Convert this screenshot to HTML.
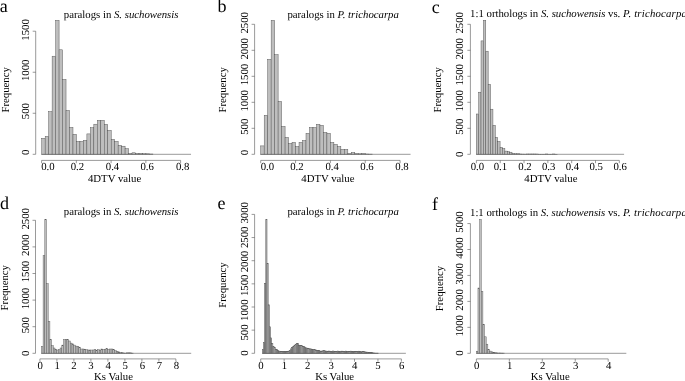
<!DOCTYPE html>
<html lang="en">
<head>
<meta charset="utf-8">
<title>4DTV and Ks distributions</title>
<style>
html,body{margin:0;padding:0;background:#fff;}
svg{display:block;will-change:transform;filter:blur(0.35px);}
text{font-family:"Liberation Serif", "Times New Roman", serif;fill:#000;text-rendering:geometricPrecision;}
.t{font-size:10.75px;}
.L{font-size:18px;}
.i{font-style:italic;}
.ax{stroke:#555;stroke-width:0.6;fill:none;}
.b{fill:#bebebe;stroke:#505050;stroke-width:0.45;}
</style>
</head>
<body>
<svg width="685" height="381" viewBox="0 0 685 381">
<rect width="685" height="381" fill="#fff"/>
<g>
<text class="L" x="-0.3" y="12.4">a</text>
<text class="t" x="63.8" y="17.8" xml:space="preserve">paralogs in <tspan class="i">S. suchowensis</tspan></text>
<g class="b">
<rect x="41.7" y="138.3" width="3.48" height="16"/><rect x="45.18" y="136.4" width="3.48" height="17.9"/><rect x="48.65" y="111.6" width="3.48" height="42.7"/><rect x="52.12" y="56.2" width="3.48" height="98.1"/><rect x="55.6" y="20.3" width="3.48" height="134"/><rect x="59.08" y="49.8" width="3.48" height="104.5"/><rect x="62.55" y="79.4" width="3.48" height="74.9"/><rect x="66.03" y="110.4" width="3.48" height="43.9"/><rect x="69.5" y="127.4" width="3.48" height="26.9"/><rect x="72.98" y="134.3" width="3.48" height="20"/><rect x="76.45" y="141.4" width="3.48" height="12.9"/><rect x="79.93" y="141.4" width="3.48" height="12.9"/><rect x="83.4" y="140.3" width="3.48" height="14"/><rect x="86.88" y="133.9" width="3.48" height="20.4"/><rect x="90.35" y="127.7" width="3.48" height="26.6"/><rect x="93.83" y="124.2" width="3.48" height="30.1"/><rect x="97.3" y="120.3" width="3.48" height="34"/><rect x="100.78" y="120.3" width="3.48" height="34"/><rect x="104.25" y="124.3" width="3.48" height="30"/><rect x="107.73" y="130.3" width="3.48" height="24"/><rect x="111.2" y="139.3" width="3.48" height="15"/><rect x="114.68" y="141.4" width="3.48" height="12.9"/><rect x="118.15" y="145.3" width="3.48" height="9"/><rect x="121.62" y="146.2" width="3.48" height="8.1"/><rect x="125.1" y="148.6" width="3.48" height="5.7"/><rect x="128.57" y="153.4" width="3.48" height="0.9"/><rect x="132.05" y="152.8" width="3.48" height="1.5"/><rect x="135.53" y="153.4" width="3.48" height="0.9"/><rect x="139" y="153.4" width="3.48" height="0.9"/><rect x="142.48" y="153.7" width="3.48" height="0.6"/><rect x="145.95" y="153.8" width="3.48" height="0.5"/><rect x="149.43" y="154" width="3.48" height="0.3"/>
</g>
<path class="ax" d="M41.7 154.3H191.03"/>
<path class="ax" d="M35.7 154.3V31.21M35.7 154.3h-3M35.7 113.27h-3M35.7 72.24h-3M35.7 31.21h-3"/>
<text class="t" text-anchor="middle" transform="translate(29.1 152.3) rotate(-90)">0</text>
<text class="t" text-anchor="middle" transform="translate(29.1 111.17) rotate(-90)">500</text>
<text class="t" text-anchor="middle" transform="translate(29.1 70.34) rotate(-90)">1000</text>
<text class="t" text-anchor="middle" transform="translate(29.1 29.91) rotate(-90)">1500</text>
<text class="t" text-anchor="middle" transform="translate(8.5 89.8) rotate(-90)">Frequency</text>
<path class="ax" d="M41.6 160.4H180.6M41.6 160.4v2.8M76.35 160.4v2.8M111.1 160.4v2.8M145.85 160.4v2.8M180.6 160.4v2.8"/>
<text class="t" text-anchor="middle" x="47.9" y="170.3">0.0</text>
<text class="t" text-anchor="middle" x="77.4" y="170.3">0.2</text>
<text class="t" text-anchor="middle" x="112.5" y="170.3">0.4</text>
<text class="t" text-anchor="middle" x="147.2" y="170.3">0.6</text>
<text class="t" text-anchor="middle" x="182.6" y="170.3">0.8</text>
<text class="t" text-anchor="middle" x="114.6" y="181.5">4DTV value</text>
</g>
<g>
<text class="L" x="217.5" y="12.4">b</text>
<text class="t" x="287.4" y="17.6" xml:space="preserve">paralogs in <tspan class="i">P. trichocarpa</tspan></text>
<g class="b">
<rect x="260.7" y="145.9" width="3.48" height="8.4"/><rect x="264.19" y="115.3" width="3.48" height="39"/><rect x="267.67" y="59.3" width="3.48" height="95"/><rect x="271.15" y="20.3" width="3.48" height="134"/><rect x="274.64" y="54.7" width="3.48" height="99.6"/><rect x="278.12" y="101.4" width="3.48" height="52.9"/><rect x="281.61" y="126.4" width="3.48" height="27.9"/><rect x="285.09" y="137.4" width="3.48" height="16.9"/><rect x="288.58" y="143.4" width="3.48" height="10.9"/><rect x="292.06" y="142.4" width="3.48" height="11.9"/><rect x="295.55" y="146.5" width="3.48" height="7.8"/><rect x="299.03" y="142.4" width="3.48" height="11.9"/><rect x="302.52" y="140.5" width="3.48" height="13.8"/><rect x="306" y="133.3" width="3.48" height="21"/><rect x="309.49" y="127.5" width="3.48" height="26.8"/><rect x="312.97" y="127.5" width="3.48" height="26.8"/><rect x="316.46" y="124.3" width="3.48" height="30"/><rect x="319.94" y="125.3" width="3.48" height="29"/><rect x="323.43" y="132.4" width="3.48" height="21.9"/><rect x="326.91" y="133.3" width="3.48" height="21"/><rect x="330.4" y="142.4" width="3.48" height="11.9"/><rect x="333.88" y="144.4" width="3.48" height="9.9"/><rect x="337.37" y="146.5" width="3.48" height="7.8"/><rect x="340.86" y="149.4" width="3.48" height="4.9"/><rect x="344.34" y="149.4" width="3.48" height="4.9"/><rect x="347.82" y="153.4" width="3.48" height="0.9"/><rect x="351.31" y="152.5" width="3.48" height="1.8"/><rect x="354.79" y="153.4" width="3.48" height="0.9"/><rect x="358.28" y="153.8" width="3.48" height="0.5"/><rect x="361.76" y="153.4" width="3.48" height="0.9"/><rect x="365.25" y="154" width="3.48" height="0.3"/><rect x="368.74" y="154.1" width="3.48" height="0.2"/>
</g>
<path class="ax" d="M260.7 154.3H410.55"/>
<path class="ax" d="M254.6 154.3V24.3M254.6 154.3h-3M254.6 128.3h-3M254.6 102.3h-3M254.6 76.3h-3M254.6 50.3h-3M254.6 24.3h-3"/>
<text class="t" text-anchor="middle" transform="translate(248.1 152.5) rotate(-90)">0</text>
<text class="t" text-anchor="middle" transform="translate(248.1 126.8) rotate(-90)">500</text>
<text class="t" text-anchor="middle" transform="translate(248.1 100.8) rotate(-90)">1000</text>
<text class="t" text-anchor="middle" transform="translate(248.1 74.6) rotate(-90)">1500</text>
<text class="t" text-anchor="middle" transform="translate(248.1 48.8) rotate(-90)">2000</text>
<text class="t" text-anchor="middle" transform="translate(248.1 22.8) rotate(-90)">2500</text>
<text class="t" text-anchor="middle" transform="translate(226.3 89.8) rotate(-90)">Frequency</text>
<path class="ax" d="M260.7 160.4H400.1M260.7 160.4v2.8M295.55 160.4v2.8M330.4 160.4v2.8M365.25 160.4v2.8M400.1 160.4v2.8"/>
<text class="t" text-anchor="middle" x="267.4" y="170.3">0.0</text>
<text class="t" text-anchor="middle" x="296.9" y="170.3">0.2</text>
<text class="t" text-anchor="middle" x="332.1" y="170.3">0.4</text>
<text class="t" text-anchor="middle" x="367" y="170.3">0.6</text>
<text class="t" text-anchor="middle" x="402" y="170.3">0.8</text>
<text class="t" text-anchor="middle" x="327.9" y="181.5">4DTV value</text>
</g>
<g>
<text class="L" x="431.8" y="12.6">c</text>
<text class="t" x="470.1" y="17.2" xml:space="preserve">1:1 orthologs in <tspan class="i">S. suchowensis</tspan> vs. <tspan class="i" letter-spacing="0.2">P. trichocarpa</tspan></text>
<g class="b">
<rect x="476.25" y="114" width="2.38" height="40.3"/><rect x="478.63" y="92.2" width="2.38" height="62.1"/><rect x="481.02" y="40.9" width="2.38" height="113.4"/><rect x="483.4" y="20.3" width="2.38" height="134"/><rect x="485.79" y="51.2" width="2.38" height="103.1"/><rect x="488.18" y="84.3" width="2.38" height="70"/><rect x="490.56" y="109.2" width="2.38" height="45.1"/><rect x="492.94" y="125.3" width="2.38" height="29"/><rect x="495.33" y="137.3" width="2.38" height="17"/><rect x="497.71" y="141.5" width="2.38" height="12.8"/><rect x="500.1" y="147.4" width="2.38" height="6.9"/><rect x="502.49" y="148.6" width="2.38" height="5.7"/><rect x="504.87" y="151.1" width="2.38" height="3.2"/><rect x="507.25" y="151.7" width="2.38" height="2.6"/><rect x="509.64" y="152.2" width="2.38" height="2.1"/><rect x="512.02" y="153.4" width="2.38" height="0.9"/><rect x="514.41" y="153.8" width="2.38" height="0.5"/><rect x="516.79" y="153.7" width="2.38" height="0.6"/><rect x="519.18" y="154" width="2.38" height="0.3"/><rect x="521.57" y="154.1" width="2.38" height="0.2"/><rect x="523.95" y="154.15" width="2.38" height="0.15"/><rect x="526.34" y="154" width="2.38" height="0.3"/><rect x="528.72" y="154" width="2.38" height="0.3"/><rect x="531.11" y="154" width="2.38" height="0.3"/><rect x="533.49" y="154" width="2.38" height="0.3"/><rect x="535.88" y="154.05" width="2.38" height="0.25"/><rect x="538.26" y="154.25" width="2.38" height="0.05"/><rect x="540.64" y="154.25" width="2.38" height="0.05"/><rect x="543.03" y="154.25" width="2.38" height="0.05"/><rect x="545.41" y="154" width="2.38" height="0.3"/><rect x="547.8" y="154.25" width="2.38" height="0.05"/><rect x="550.18" y="154.25" width="2.38" height="0.05"/><rect x="552.57" y="154" width="2.38" height="0.3"/><rect x="554.96" y="154.25" width="2.38" height="0.05"/>
</g>
<path class="ax" d="M476.25 154.3H624.08"/>
<path class="ax" d="M470.4 154.3V24.3M470.4 154.3h-3M470.4 128.3h-3M470.4 102.3h-3M470.4 76.3h-3M470.4 50.3h-3M470.4 24.3h-3"/>
<text class="t" text-anchor="middle" transform="translate(463.2 154.3) rotate(-90)">0</text>
<text class="t" text-anchor="middle" transform="translate(463.2 126.8) rotate(-90)">500</text>
<text class="t" text-anchor="middle" transform="translate(463.2 100.8) rotate(-90)">1000</text>
<text class="t" text-anchor="middle" transform="translate(463.2 74.8) rotate(-90)">1500</text>
<text class="t" text-anchor="middle" transform="translate(463.2 48.8) rotate(-90)">2000</text>
<text class="t" text-anchor="middle" transform="translate(463.2 22.8) rotate(-90)">2500</text>
<text class="t" text-anchor="middle" transform="translate(441.4 89.8) rotate(-90)">Frequency</text>
<path class="ax" d="M476.4 160.4H619.32M476.4 160.4v2.8M500.22 160.4v2.8M524.04 160.4v2.8M547.86 160.4v2.8M571.68 160.4v2.8M595.5 160.4v2.8M619.32 160.4v2.8"/>
<text class="t" text-anchor="middle" x="477.4" y="170.3">0.0</text>
<text class="t" text-anchor="middle" x="500.4" y="170.3">0.1</text>
<text class="t" text-anchor="middle" x="525" y="170.3">0.2</text>
<text class="t" text-anchor="middle" x="548.6" y="170.3">0.3</text>
<text class="t" text-anchor="middle" x="572.4" y="170.3">0.4</text>
<text class="t" text-anchor="middle" x="596.1" y="170.3">0.5</text>
<text class="t" text-anchor="middle" x="620.1" y="170.3">0.6</text>
<text class="t" text-anchor="middle" x="550.9" y="181.5">4DTV value</text>
</g>
<g>
<text class="L" x="0" y="209">d</text>
<text class="t" x="63.8" y="215.2" xml:space="preserve">paralogs in <tspan class="i">S. suchowensis</tspan></text>
<g class="b" style="stroke:#5c5c5c;">
<rect x="41.4" y="346.4" width="1.7" height="6.9"/><rect x="43.1" y="255.6" width="1.7" height="97.7"/><rect x="44.8" y="219.6" width="1.7" height="133.7"/><rect x="46.5" y="283.6" width="1.7" height="69.7"/><rect x="48.2" y="321.4" width="1.7" height="31.9"/><rect x="49.9" y="339.5" width="1.7" height="13.8"/><rect x="51.6" y="345.6" width="1.7" height="7.7"/><rect x="53.3" y="348" width="1.7" height="5.3"/><rect x="55" y="349.2" width="1.7" height="4.1"/><rect x="56.7" y="350" width="1.7" height="3.3"/><rect x="58.4" y="349.7" width="1.7" height="3.6"/><rect x="60.1" y="348" width="1.7" height="5.3"/><rect x="61.8" y="345.1" width="1.7" height="8.2"/><rect x="63.5" y="339.5" width="1.7" height="13.8"/><rect x="65.2" y="339.5" width="1.7" height="13.8"/><rect x="66.9" y="339.5" width="1.7" height="13.8"/><rect x="68.6" y="341" width="1.7" height="12.3"/><rect x="70.3" y="343.1" width="1.7" height="10.2"/><rect x="72" y="343.9" width="1.7" height="9.4"/><rect x="73.7" y="345.1" width="1.7" height="8.2"/><rect x="75.4" y="346.1" width="1.7" height="7.2"/><rect x="77.1" y="346.7" width="1.7" height="6.6"/><rect x="78.8" y="347.2" width="1.7" height="6.1"/><rect x="80.5" y="349" width="1.7" height="4.3"/><rect x="82.2" y="349" width="1.7" height="4.3"/><rect x="83.9" y="349.2" width="1.7" height="4.1"/><rect x="85.6" y="349.7" width="1.7" height="3.6"/><rect x="87.3" y="350" width="1.7" height="3.3"/><rect x="89" y="350" width="1.7" height="3.3"/><rect x="90.7" y="350" width="1.7" height="3.3"/><rect x="92.4" y="350" width="1.7" height="3.3"/><rect x="94.1" y="349.7" width="1.7" height="3.6"/><rect x="95.8" y="350.2" width="1.7" height="3.1"/><rect x="97.5" y="349.7" width="1.7" height="3.6"/><rect x="99.2" y="350.2" width="1.7" height="3.1"/><rect x="100.9" y="349" width="1.7" height="4.3"/><rect x="102.6" y="349.4" width="1.7" height="3.9"/><rect x="104.3" y="349.2" width="1.7" height="4.1"/><rect x="106" y="348.5" width="1.7" height="4.8"/><rect x="107.7" y="349.2" width="1.7" height="4.1"/><rect x="109.4" y="349" width="1.7" height="4.3"/><rect x="111.1" y="349" width="1.7" height="4.3"/><rect x="112.8" y="349.7" width="1.7" height="3.6"/><rect x="114.5" y="350.7" width="1.7" height="2.6"/><rect x="116.2" y="351.3" width="1.7" height="2"/><rect x="117.9" y="351.8" width="1.7" height="1.5"/><rect x="119.6" y="352.3" width="1.7" height="1"/><rect x="121.3" y="352.7" width="1.7" height="0.6"/><rect x="123" y="353" width="1.7" height="0.3"/><rect x="124.7" y="353.1" width="1.7" height="0.2"/><rect x="126.4" y="352.8" width="1.7" height="0.5"/><rect x="128.1" y="352.8" width="1.7" height="0.5"/><rect x="129.8" y="352.8" width="1.7" height="0.5"/><rect x="131.5" y="353.1" width="1.7" height="0.2"/>
</g>
<path class="ax" d="M41.4 353.3H191.2"/>
<path class="ax" d="M35.5 353.3V220.3M35.5 353.3h-3M35.5 326.7h-3M35.5 300.1h-3M35.5 273.5h-3M35.5 246.9h-3M35.5 220.3h-3"/>
<text class="t" text-anchor="middle" transform="translate(28.7 353.2) rotate(-90)">0</text>
<text class="t" text-anchor="middle" transform="translate(28.7 325.2) rotate(-90)">500</text>
<text class="t" text-anchor="middle" transform="translate(28.7 298.6) rotate(-90)">1000</text>
<text class="t" text-anchor="middle" transform="translate(28.7 271.6) rotate(-90)">1500</text>
<text class="t" text-anchor="middle" transform="translate(28.7 245.2) rotate(-90)">2000</text>
<text class="t" text-anchor="middle" transform="translate(28.7 218.8) rotate(-90)">2500</text>
<text class="t" text-anchor="middle" transform="translate(8.4 287.7) rotate(-90)">Frequency</text>
<path class="ax" d="M39.9 358.9H175.9M39.9 358.9v2.8M56.9 358.9v2.8M73.9 358.9v2.8M90.9 358.9v2.8M107.9 358.9v2.8M124.9 358.9v2.8M141.9 358.9v2.8M158.9 358.9v2.8M175.9 358.9v2.8"/>
<text class="t" text-anchor="middle" x="40.2" y="369.1">0</text>
<text class="t" text-anchor="middle" x="57.3" y="369.1">1</text>
<text class="t" text-anchor="middle" x="74" y="369.1">2</text>
<text class="t" text-anchor="middle" x="91" y="369.1">3</text>
<text class="t" text-anchor="middle" x="108.2" y="369.1">4</text>
<text class="t" text-anchor="middle" x="125.3" y="369.1">5</text>
<text class="t" text-anchor="middle" x="142.4" y="369.1">6</text>
<text class="t" text-anchor="middle" x="159.4" y="369.1">7</text>
<text class="t" text-anchor="middle" x="176.4" y="369.1">8</text>
<text class="t" text-anchor="middle" x="113.5" y="380.4">Ks Value</text>
</g>
<g>
<text class="L" x="217.5" y="209.2">e</text>
<text class="t" x="287.4" y="215.2" xml:space="preserve">paralogs in <tspan class="i">P. trichocarpa</tspan></text>
<g class="b" style="stroke:#505050;stroke-width:0.52;">
<rect x="262.3" y="349.6" width="1.17" height="3.7"/><rect x="263.47" y="342.6" width="1.17" height="10.7"/><rect x="264.65" y="283.5" width="1.17" height="69.8"/><rect x="265.82" y="219.6" width="1.17" height="133.7"/><rect x="266.99" y="263.3" width="1.17" height="90"/><rect x="268.16" y="304.8" width="1.17" height="48.5"/><rect x="269.34" y="326.8" width="1.17" height="26.5"/><rect x="270.51" y="337.9" width="1.17" height="15.4"/><rect x="271.68" y="343.7" width="1.17" height="9.6"/><rect x="272.85" y="346.7" width="1.17" height="6.6"/><rect x="274.03" y="347.4" width="1.17" height="5.9"/><rect x="275.2" y="349.2" width="1.17" height="4.1"/><rect x="276.37" y="349.6" width="1.17" height="3.7"/><rect x="277.54" y="350.4" width="1.17" height="2.9"/><rect x="278.72" y="351.1" width="1.17" height="2.2"/><rect x="279.89" y="351.5" width="1.17" height="1.8"/><rect x="281.06" y="351.5" width="1.17" height="1.8"/><rect x="282.23" y="351.5" width="1.17" height="1.8"/><rect x="283.41" y="351.5" width="1.17" height="1.8"/><rect x="284.58" y="351.5" width="1.17" height="1.8"/><rect x="285.75" y="351.5" width="1.17" height="1.8"/><rect x="286.92" y="351.3" width="1.17" height="2"/><rect x="288.1" y="351.1" width="1.17" height="2.2"/><rect x="289.27" y="350.4" width="1.17" height="2.9"/><rect x="290.44" y="348.9" width="1.17" height="4.4"/><rect x="291.61" y="347.4" width="1.17" height="5.9"/><rect x="292.79" y="346.4" width="1.17" height="6.9"/><rect x="293.96" y="345.2" width="1.17" height="8.1"/><rect x="295.13" y="344.2" width="1.17" height="9.1"/><rect x="296.3" y="343.3" width="1.17" height="10"/><rect x="297.48" y="343.7" width="1.17" height="9.6"/><rect x="298.65" y="345.2" width="1.17" height="8.1"/><rect x="299.82" y="345.7" width="1.17" height="7.6"/><rect x="300.99" y="345.7" width="1.17" height="7.6"/><rect x="302.17" y="346.7" width="1.17" height="6.6"/><rect x="303.34" y="346.4" width="1.17" height="6.9"/><rect x="304.51" y="347.1" width="1.17" height="6.2"/><rect x="305.68" y="347.9" width="1.17" height="5.4"/><rect x="306.86" y="348.2" width="1.17" height="5.1"/><rect x="308.03" y="348.6" width="1.17" height="4.7"/><rect x="309.2" y="348.9" width="1.17" height="4.4"/><rect x="310.37" y="348.9" width="1.17" height="4.4"/><rect x="311.55" y="349.2" width="1.17" height="4.1"/><rect x="312.72" y="349.6" width="1.17" height="3.7"/><rect x="313.89" y="349.6" width="1.17" height="3.7"/><rect x="315.06" y="349.9" width="1.17" height="3.4"/><rect x="316.24" y="350.4" width="1.17" height="2.9"/><rect x="317.41" y="350.4" width="1.17" height="2.9"/><rect x="318.58" y="350.7" width="1.17" height="2.6"/><rect x="319.75" y="351.1" width="1.17" height="2.2"/><rect x="320.93" y="351.1" width="1.17" height="2.2"/><rect x="322.1" y="350.8" width="1.17" height="2.5"/><rect x="323.27" y="350.4" width="1.17" height="2.9"/><rect x="324.44" y="350.8" width="1.17" height="2.5"/><rect x="325.62" y="351.1" width="1.17" height="2.2"/><rect x="326.79" y="351.4" width="1.17" height="1.9"/><rect x="327.96" y="351.06" width="1.17" height="2.24"/><rect x="329.13" y="351.17" width="1.17" height="2.13"/><rect x="330.31" y="351.59" width="1.17" height="1.71"/><rect x="331.48" y="351.39" width="1.17" height="1.91"/><rect x="332.65" y="351.03" width="1.17" height="2.27"/><rect x="333.82" y="351.34" width="1.17" height="1.96"/><rect x="335" y="351.64" width="1.17" height="1.66"/><rect x="336.17" y="351.26" width="1.17" height="2.04"/><rect x="337.34" y="351.08" width="1.17" height="2.22"/><rect x="338.51" y="351.52" width="1.17" height="1.78"/><rect x="339.69" y="351.6" width="1.17" height="1.7"/><rect x="340.86" y="351.16" width="1.17" height="2.14"/><rect x="342.03" y="351.2" width="1.17" height="2.1"/><rect x="343.2" y="351.65" width="1.17" height="1.65"/><rect x="344.38" y="351.51" width="1.17" height="1.79"/><rect x="345.55" y="351.11" width="1.17" height="2.19"/><rect x="346.72" y="351.37" width="1.17" height="1.93"/><rect x="347.89" y="351.72" width="1.17" height="1.58"/><rect x="349.06" y="351.38" width="1.17" height="1.92"/><rect x="350.24" y="351.14" width="1.17" height="2.16"/><rect x="351.41" y="351.55" width="1.17" height="1.75"/><rect x="352.58" y="351.7" width="1.17" height="1.6"/><rect x="353.75" y="351.27" width="1.17" height="2.03"/><rect x="354.93" y="351.25" width="1.17" height="2.05"/><rect x="356.1" y="351.7" width="1.17" height="1.6"/><rect x="357.27" y="351.62" width="1.17" height="1.68"/><rect x="358.45" y="351.2" width="1.17" height="2.1"/><rect x="359.62" y="351.41" width="1.17" height="1.89"/><rect x="360.79" y="351.79" width="1.17" height="1.51"/><rect x="361.96" y="351.6" width="1.17" height="1.7"/><rect x="363.13" y="351.74" width="1.17" height="1.56"/><rect x="364.31" y="351.88" width="1.17" height="1.42"/><rect x="365.48" y="352.02" width="1.17" height="1.28"/><rect x="366.65" y="352.17" width="1.17" height="1.13"/><rect x="367.83" y="352.31" width="1.17" height="0.99"/><rect x="369" y="352.45" width="1.17" height="0.85"/><rect x="370.17" y="352.59" width="1.17" height="0.71"/><rect x="371.34" y="352.73" width="1.17" height="0.57"/><rect x="372.51" y="352.87" width="1.17" height="0.43"/><rect x="373.69" y="353.02" width="1.17" height="0.28"/><rect x="374.86" y="353.15" width="1.17" height="0.15"/><rect x="376.03" y="353.15" width="1.17" height="0.15"/><rect x="377.21" y="353.15" width="1.17" height="0.15"/>
</g>
<path class="ax" d="M262.3 353.3H405.86"/>
<path class="ax" d="M254.6 353.3V214.4M254.6 353.3h-3M254.6 330.15h-3M254.6 307h-3M254.6 283.85h-3M254.6 260.7h-3M254.6 237.55h-3M254.6 214.4h-3"/>
<text class="t" text-anchor="middle" transform="translate(248.1 353.1) rotate(-90)">0</text>
<text class="t" text-anchor="middle" transform="translate(248.1 332.55) rotate(-90)">500</text>
<text class="t" text-anchor="middle" transform="translate(248.1 310.2) rotate(-90)">1000</text>
<text class="t" text-anchor="middle" transform="translate(248.1 285.35) rotate(-90)">1500</text>
<text class="t" text-anchor="middle" transform="translate(248.1 261.6) rotate(-90)">2000</text>
<text class="t" text-anchor="middle" transform="translate(248.1 237.35) rotate(-90)">2500</text>
<text class="t" text-anchor="middle" transform="translate(248.1 212.8) rotate(-90)">3000</text>
<text class="t" text-anchor="middle" transform="translate(226.3 285) rotate(-90)">Frequency</text>
<path class="ax" d="M260.7 358.9H401.4M260.7 358.9v2.8M284.15 358.9v2.8M307.6 358.9v2.8M331.05 358.9v2.8M354.5 358.9v2.8M377.95 358.9v2.8M401.4 358.9v2.8"/>
<text class="t" text-anchor="middle" x="260.9" y="369.1">0</text>
<text class="t" text-anchor="middle" x="284.4" y="369.1">1</text>
<text class="t" text-anchor="middle" x="307.8" y="369.1">2</text>
<text class="t" text-anchor="middle" x="331.3" y="369.1">3</text>
<text class="t" text-anchor="middle" x="354.7" y="369.1">4</text>
<text class="t" text-anchor="middle" x="378" y="369.1">5</text>
<text class="t" text-anchor="middle" x="401.6" y="369.1">6</text>
<text class="t" text-anchor="middle" x="334.6" y="380.4">Ks Value</text>
</g>
<g>
<text class="L" x="432" y="209.9">f</text>
<text class="t" x="470" y="215.6" xml:space="preserve">1:1 orthologs in <tspan class="i">S. suchowensis</tspan> vs. <tspan class="i" letter-spacing="0.2">P. trichocarpa</tspan></text>
<g class="b" style="stroke:#5c5c5c;">
<rect x="476.3" y="351.2" width="1.65" height="2.1"/><rect x="477.95" y="288" width="1.65" height="65.3"/><rect x="479.6" y="219.4" width="1.65" height="133.9"/><rect x="481.25" y="291.3" width="1.65" height="62"/><rect x="482.9" y="324.3" width="1.65" height="29"/><rect x="484.55" y="336.8" width="1.65" height="16.5"/><rect x="486.2" y="344.2" width="1.65" height="9.1"/><rect x="487.85" y="349.5" width="1.65" height="3.8"/><rect x="489.5" y="351.1" width="1.65" height="2.2"/><rect x="491.15" y="351.9" width="1.65" height="1.4"/><rect x="492.8" y="352.4" width="1.65" height="0.9"/><rect x="494.45" y="352.7" width="1.65" height="0.6"/><rect x="496.1" y="352.9" width="1.65" height="0.4"/><rect x="497.75" y="353" width="1.65" height="0.3"/><rect x="499.4" y="353" width="1.65" height="0.3"/><rect x="501.05" y="353.1" width="1.65" height="0.2"/><rect x="502.7" y="353.1" width="1.65" height="0.2"/>
</g>
<path class="ax" d="M476.3 353.3H626.32"/>
<path class="ax" d="M470.4 353.3V223.55M470.4 353.3h-3M470.4 327.35h-3M470.4 301.4h-3M470.4 275.45h-3M470.4 249.5h-3M470.4 223.55h-3"/>
<text class="t" text-anchor="middle" transform="translate(463.2 353.1) rotate(-90)">0</text>
<text class="t" text-anchor="middle" transform="translate(463.2 325.85) rotate(-90)">1000</text>
<text class="t" text-anchor="middle" transform="translate(463.2 299.9) rotate(-90)">2000</text>
<text class="t" text-anchor="middle" transform="translate(463.2 273.95) rotate(-90)">3000</text>
<text class="t" text-anchor="middle" transform="translate(463.2 248) rotate(-90)">4000</text>
<text class="t" text-anchor="middle" transform="translate(463.2 222.05) rotate(-90)">5000</text>
<text class="t" text-anchor="middle" transform="translate(442.7 288.5) rotate(-90)">Frequency</text>
<path class="ax" d="M476.4 358.9H608.2M476.4 358.9v2.8M509.35 358.9v2.8M542.3 358.9v2.8M575.25 358.9v2.8M608.2 358.9v2.8"/>
<text class="t" text-anchor="middle" x="476.8" y="369.1">0</text>
<text class="t" text-anchor="middle" x="509.8" y="369.1">1</text>
<text class="t" text-anchor="middle" x="542.8" y="369.1">2</text>
<text class="t" text-anchor="middle" x="575.6" y="369.1">3</text>
<text class="t" text-anchor="middle" x="608.6" y="369.1">4</text>
<text class="t" text-anchor="middle" x="550.2" y="380.4">Ks Value</text>
</g>
</svg>
</body>
</html>
